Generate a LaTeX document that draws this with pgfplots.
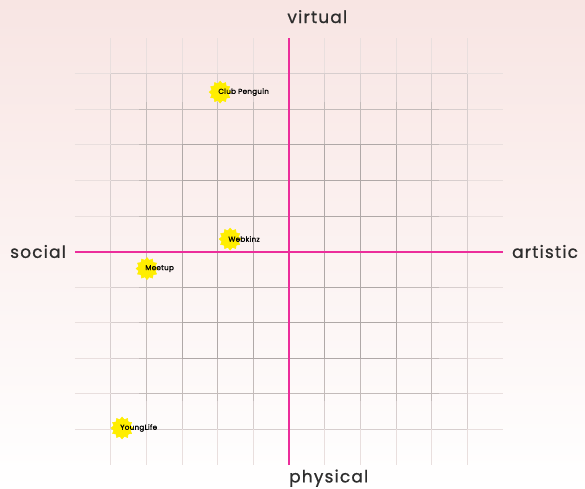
\documentclass[border=0pt]{standalone}
\usepackage{pgfplots}
\pgfplotsset{compat=1.18}
\usepackage{fontspec}
\setmainfont{Poppins}
\newfontfamily\axfont{Poppins}[FakeBold=0.8, LetterSpace=7]
\newfontfamily\lbfont{Poppins}[FakeBold=1.4, LetterSpace=4]
\definecolor{pinkline}{RGB}{236,45,155}
\definecolor{bgtop}{RGB}{248,229,227}
\definecolor{bgmid}{RGB}{251,242,241}
\definecolor{gridbg}{RGB}{250,240,239}
\definecolor{staryellow}{RGB}{255,238,0}
\definecolor{txt}{RGB}{45,45,45}
\colorlet{gA}{black!7!gridbg}
\colorlet{gB}{black!14!gridbg}
\colorlet{gC}{black!22!gridbg}
\colorlet{gD}{black!30!gridbg}
\pgfdeclareplotmark{burst}{%
  \pgfpathmoveto{\pgfpointpolar{0}{\pgfplotmarksize}}%
  \pgfpathlineto{\pgfpointpolar{15}{0.78\pgfplotmarksize}}%
  \pgfpathlineto{\pgfpointpolar{30}{\pgfplotmarksize}}%
  \pgfpathlineto{\pgfpointpolar{45}{0.78\pgfplotmarksize}}%
  \pgfpathlineto{\pgfpointpolar{60}{\pgfplotmarksize}}%
  \pgfpathlineto{\pgfpointpolar{75}{0.78\pgfplotmarksize}}%
  \pgfpathlineto{\pgfpointpolar{90}{\pgfplotmarksize}}%
  \pgfpathlineto{\pgfpointpolar{105}{0.78\pgfplotmarksize}}%
  \pgfpathlineto{\pgfpointpolar{120}{\pgfplotmarksize}}%
  \pgfpathlineto{\pgfpointpolar{135}{0.78\pgfplotmarksize}}%
  \pgfpathlineto{\pgfpointpolar{150}{\pgfplotmarksize}}%
  \pgfpathlineto{\pgfpointpolar{165}{0.78\pgfplotmarksize}}%
  \pgfpathlineto{\pgfpointpolar{180}{\pgfplotmarksize}}%
  \pgfpathlineto{\pgfpointpolar{195}{0.78\pgfplotmarksize}}%
  \pgfpathlineto{\pgfpointpolar{210}{\pgfplotmarksize}}%
  \pgfpathlineto{\pgfpointpolar{225}{0.78\pgfplotmarksize}}%
  \pgfpathlineto{\pgfpointpolar{240}{\pgfplotmarksize}}%
  \pgfpathlineto{\pgfpointpolar{255}{0.78\pgfplotmarksize}}%
  \pgfpathlineto{\pgfpointpolar{270}{\pgfplotmarksize}}%
  \pgfpathlineto{\pgfpointpolar{285}{0.78\pgfplotmarksize}}%
  \pgfpathlineto{\pgfpointpolar{300}{\pgfplotmarksize}}%
  \pgfpathlineto{\pgfpointpolar{315}{0.78\pgfplotmarksize}}%
  \pgfpathlineto{\pgfpointpolar{330}{\pgfplotmarksize}}%
  \pgfpathlineto{\pgfpointpolar{345}{0.78\pgfplotmarksize}}%
  \pgfpathclose
  \pgfusepathqfillstroke}
\begin{document}
\begin{tikzpicture}
\shade[top color=bgtop, middle color=bgmid, bottom color=white] (0,0) rectangle (585bp,489bp);
\begin{scope}[shift={(289bp,237.5bp)}, x=35.667bp, y=35.583bp, line width=0.8bp]
\foreach \i in {-5,-4,-3,-2,-1,0,1,2,3,4,5}{
  \draw[gA] (\i,-6) -- (\i,6);
  \draw[gA] (-6,\i) -- (6,\i);
  \draw[gB] (\i,-5) -- (\i,5);
  \draw[gB] (-5,\i) -- (5,\i);
}
\foreach \i in {-4,-3,-2,-1,0,1,2,3,4}{
  \draw[gC] (\i,-4.2) -- (\i,4.2);
  \draw[gC] (-4.2,\i) -- (4.2,\i);
}
\foreach \i in {-3,-2,-1,0,1,2,3}{
  \draw[gD] (\i,-3) -- (\i,3);
  \draw[gD] (-3,\i) -- (3,\i);
}
\end{scope}
\begin{axis}[
  at={(75bp,24bp)}, anchor=south west,
  scale only axis, width=428bp, height=427bp,
  xmin=-6, xmax=6, ymin=-6, ymax=6,
  enlargelimits=false,
  axis lines=none,
  xtick=\empty, ytick=\empty,
  clip=false,
]
\addplot[draw=pinkline, line width=2bp, no marks] coordinates {(-6,0) (0,0) (6,0)};
\addplot[draw=pinkline, line width=2bp, no marks] coordinates {(0,-6) (0,0) (0,6)};
\addplot[only marks, mark=burst, mark size=11bp,
  mark options={fill=staryellow, draw=staryellow, line width=0.5bp},
  nodes near coords, point meta=explicit symbolic,
  every node near coord/.style={anchor=west, xshift=-2bp, inner sep=0pt,
    font=\lbfont\fontsize{7.2}{8}\selectfont, text=black}]
  table[meta=label, col sep=comma] {
x,y,label
-1.93,4.48,Club Penguin
-1.65,0.35,Webkinz
-3.98,-0.48,Meetup
-4.68,-4.96,YoungLife
};
\node[anchor=west, inner sep=0pt, font=\axfont\fontsize{17}{19}\selectfont, text=txt] at (axis cs:-0.05,6.6) {virtual};
\node[anchor=west, inner sep=0pt, font=\axfont\fontsize{17}{19}\selectfont, text=txt] at (axis cs:0,-6.37) {physical};
\node[anchor=east, inner sep=0pt, font=\axfont\fontsize{17}{19}\selectfont, text=txt] at (axis cs:-6.25,0) {social};
\node[anchor=west, inner sep=0pt, font=\axfont\fontsize{17}{19}\selectfont, text=txt] at (axis cs:6.25,0) {artistic};
\end{axis}
\pgfresetboundingbox
\path[use as bounding box] (0,0) rectangle (585bp,489bp);
\end{tikzpicture}
\end{document}
